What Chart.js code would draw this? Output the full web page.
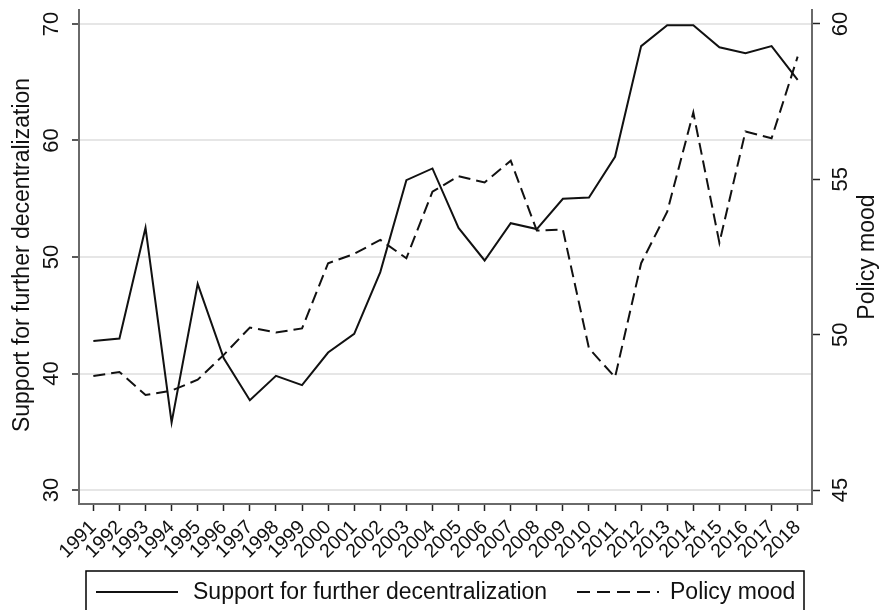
<!DOCTYPE html>
<html>
<head>
<meta charset="utf-8">
<script src="https://cdn.jsdelivr.net/npm/chart.js@4/dist/chart.umd.min.js"></script>
<style>
  html, body { margin: 0; padding: 0; background: #fff; }
  #wrap { width: 880px; height: 610px; position: relative; }
</style>
</head>
<body>
<div id="wrap"><canvas id="c" width="880" height="610"></canvas></div>
<script>
// Survey years
const years = [1991, 1992, 1993, 1994, 1995, 1996, 1997, 1998, 1999, 2000,
               2001, 2002, 2003, 2004, 2005, 2006, 2007, 2008, 2009, 2010,
               2011, 2012, 2013, 2014, 2015, 2016, 2017, 2018];

// Support for further decentralization (left axis, %)
const support = [42.8, 43.0, 52.5, 35.8, 47.7, 41.3, 37.7, 39.8, 39.0, 41.8,
                 43.4, 48.7, 56.6, 57.6, 52.5, 49.7, 52.9, 52.4, 55.0, 55.1,
                 58.6, 68.1, 69.9, 69.9, 68.0, 67.5, 68.1, 65.2];

// Policy mood (right axis)
const mood = [48.67, 48.8, 48.06, 48.2, 48.55, 49.35, 50.23, 50.07, 50.2, 52.3,
              52.6, 53.05, 52.46, 54.6, 55.1, 54.9, 55.6, 53.35, 53.38, 49.56,
              48.63, 52.3, 53.96, 57.15, 52.96, 56.54, 56.32, 58.95];

// Tick values
const leftTicks = [30, 40, 50, 60, 70];
const rightTicks = [45, 50, 55, 60];

const FONT = "'Liberation Sans', Arial, sans-serif";
const INK = '#111';

const toPoints = (vals) => years.map((yr, i) => ({ x: yr, y: vals[i] }));

// Rotated y-axis labels, axis titles and a boxed legend
const decorations = {
  id: 'decorations',
  afterDraw(chart) {
    const ctx = chart.ctx;
    const area = chart.chartArea;
    const ly = chart.scales.y;
    const ry = chart.scales.y1;
    const midY = (area.top + area.bottom) / 2;

    const vText = (txt, x, y, size) => {
      ctx.save();
      ctx.translate(x, y);
      ctx.rotate(-Math.PI / 2);
      ctx.font = size + 'px ' + FONT;
      ctx.fillStyle = INK;
      ctx.textAlign = 'center';
      ctx.textBaseline = 'middle';
      ctx.fillText(txt, 0, 0);
      ctx.restore();
    };

    leftTicks.forEach(v => vText(String(v), area.left - 27, ly.getPixelForValue(v), 22));
    rightTicks.forEach(v => vText(String(v), area.right + 29, ry.getPixelForValue(v), 22));
    vText(ly.options.title.text, 23, midY - 2, 23);
    vText(ry.options.title.text, 868, midY, 23);

    // Legend box
    const ds = chart.data.datasets;
    const boxL = area.left + 7, boxR = area.right - 8, boxT = 571;
    ctx.save();
    ctx.strokeStyle = '#000';
    ctx.lineWidth = 1.5;
    ctx.strokeRect(boxL, boxT, boxR - boxL, 60);
    const rowY = 592;
    ctx.font = '23px ' + FONT;
    ctx.fillStyle = INK;
    ctx.textBaseline = 'middle';
    ctx.textAlign = 'left';

    // First entry: solid line
    ctx.strokeStyle = INK;
    ctx.lineWidth = 2;
    ctx.setLineDash([]);
    ctx.beginPath();
    ctx.moveTo(96, rowY); ctx.lineTo(178, rowY);
    ctx.stroke();
    ctx.fillText(ds[0].label, 193, rowY + 1);

    // Second entry: dashed line
    ctx.setLineDash([13, 7]);
    ctx.beginPath();
    ctx.moveTo(577, rowY); ctx.lineTo(659, rowY);
    ctx.stroke();
    ctx.setLineDash([]);
    ctx.fillText(ds[1].label, 670, rowY + 1);
    ctx.restore();
  }
};

new Chart(document.getElementById('c'), {
  type: 'line',
  data: {
    datasets: [
      {
        label: 'Support for further decentralization',
        data: toPoints(support),
        yAxisID: 'y',
        borderColor: INK,
        borderWidth: 2,
        pointRadius: 0,
        tension: 0,
        fill: false
      },
      {
        label: 'Policy mood',
        data: toPoints(mood),
        yAxisID: 'y1',
        borderColor: INK,
        borderWidth: 2,
        borderDash: [12, 6],
        pointRadius: 0,
        tension: 0,
        fill: false
      }
    ]
  },
  options: {
    responsive: false,
    animation: false,
    events: [],
    layout: { padding: { top: 10, left: 0, right: 0, bottom: 44 } },
    plugins: {
      legend: { display: false },
      tooltip: { enabled: false }
    },
    scales: {
      x: {
        type: 'linear',
        min: 1990.45,
        max: 2018.55,
        afterBuildTicks: (s) => { s.ticks = years.map(v => ({ value: v })); },
        afterFit: (s) => { s.height = 62; },
        ticks: {
          autoSkip: false,
          minRotation: 45,
          maxRotation: 45,
          padding: 5,
          color: INK,
          font: { family: FONT, size: 19.5 },
          callback: (v) => String(v)
        },
        grid: { drawOnChartArea: false, tickLength: 7, tickColor: '#222', tickWidth: 1.5 },
        border: { color: '#6a6a6a', width: 2 }
      },
      y: {
        position: 'left',
        min: 28.8,
        max: 71.2,
        afterBuildTicks: (s) => { s.ticks = leftTicks.map(v => ({ value: v })); },
        afterFit: (s) => { s.width = 79; },
        title: { display: false, text: 'Support for further decentralization' },
        ticks: { display: false },
        grid: { color: '#e6e6e6', lineWidth: 2, tickLength: 7, tickColor: '#222', tickWidth: 1.5 },
        border: { color: '#6a6a6a', width: 2 }
      },
      y1: {
        position: 'right',
        min: 44.55,
        max: 60.45,
        afterBuildTicks: (s) => { s.ticks = rightTicks.map(v => ({ value: v })); },
        afterFit: (s) => { s.width = 68; },
        title: { display: false, text: 'Policy mood' },
        ticks: { display: false },
        grid: { drawOnChartArea: false, tickLength: 8, tickColor: '#222', tickWidth: 1.5 },
        border: { color: '#6a6a6a', width: 2 }
      }
    }
  },
  plugins: [decorations]
});
</script>
</body>
</html>
